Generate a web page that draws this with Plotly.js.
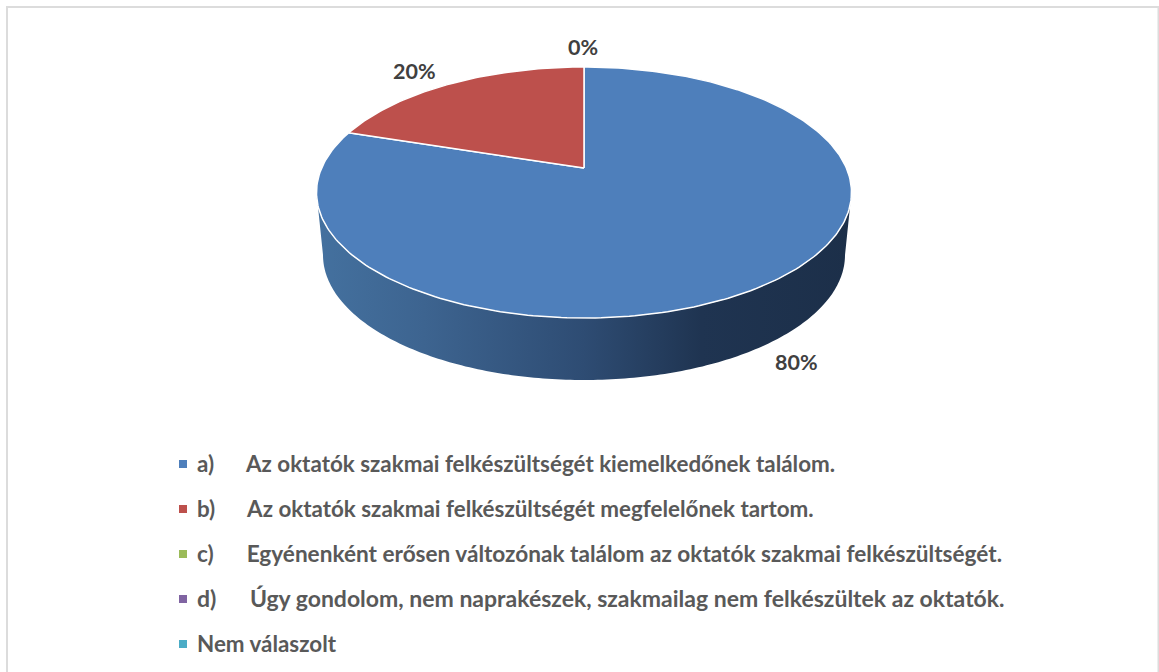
<!DOCTYPE html>
<html>
<head>
<meta charset="utf-8">
<script src="https://cdn.plot.ly/plotly-3.0.1.min.js"></script>
<style>html,body{margin:0;padding:0;background:#fff;overflow:hidden}#chart{width:1159px;height:672px}</style>
</head>
<body>
<div id="chart"></div>
<script>
// Data
const categories = [
  "a)\u00A0\u00A0\u00A0\u00A0\u00A0\u00A0Az oktatók szakmai felkészültségét kiemelkedőnek találom.",
  "b)\u00A0\u00A0\u00A0\u00A0\u00A0\u00A0Az oktatók szakmai felkészültségét megfelelőnek tartom.",
  "c)\u00A0\u00A0\u00A0\u00A0\u00A0\u00A0Egyénenként erősen változónak találom az oktatók szakmai felkészültségét.",
  "d)\u00A0\u00A0\u00A0\u00A0\u00A0\u00A0Úgy gondolom, nem naprakészek, szakmailag nem felkészültek az oktatók.",
  "Nem válaszolt"
];
const values = [80, 20, 0, 0, 0];
const colors = ["#4e7fbb", "#bd504c", "#9bbb59", "#8064a2", "#4bacc6"];
const valueLabels = [
  {text: "80%", x: 796, y: 362},
  {text: "20%", x: 414, y: 71},
  {text: "0%",  x: 583, y: 47}
];
const sideColors = [[0, "#44719f"], [0.2, "#3d6490"], [0.5, "#2e4c73"], [0.72, "#1f3451"], [1, "#1c2f49"]];

// Layout geometry (pixel-unit axes)
const W = 1159, H = 672;
const top_ = {cx: 584, cy: 192.5, rx: 267.5, ry: 125.5, tilt: 0.195};
const base = {cx: 584, cy: 255, rx: 261, ry: 125};
const rowY = [464, 509, 554, 599, 644];
const rowFont = [22.4, 22.4, 22.6, 23, 22.4];
const markerX = 183, textX = 195;
const font = "Lato, Carlito, Calibri, sans-serif";

function project(deg) {
  const t = deg * Math.PI / 180, u = Math.sin(t), v = Math.cos(t), a = top_.tilt;
  const d = 1 + a * v;
  return [top_.cx + top_.rx * u * Math.sqrt(1 - a * a) / d, top_.cy - top_.ry * (v + a) / d];
}
function slicePath(from, to) {
  const apex = [top_.cx, top_.cy - top_.ry * top_.tilt];
  const xs = [apex[0]], ys = [apex[1]];
  const n = Math.max(2, Math.ceil(to - from));
  for (let i = 0; i <= n; i++) {
    const p = project(from + (to - from) * i / n);
    xs.push(p[0]); ys.push(p[1]);
  }
  xs.push(apex[0]); ys.push(apex[1]);
  return {x: xs, y: ys};
}
function sidePath() {
  const xs = [], ys = [];
  for (let d = 180; d >= 0; d -= 1) {
    const t = d * Math.PI / 180;
    xs.push(base.cx + base.rx * Math.cos(t));
    ys.push(base.cy + base.ry * Math.sin(t));
  }
  for (let d = 0; d <= 180; d += 1) {
    const t = d * Math.PI / 180;
    xs.push(top_.cx + top_.rx * Math.cos(t));
    ys.push(top_.cy + top_.ry * Math.sin(t));
  }
  return {x: xs, y: ys};
}

const total = values.reduce((a, b) => a + b, 0);
const traces = [];
const sp = sidePath();
traces.push({
  type: "scatter", mode: "none", x: sp.x, y: sp.y, fill: "toself", hoverinfo: "skip",
  fillgradient: {type: "horizontal", colorscale: sideColors}, showlegend: false
});
let angle = 0;
values.forEach((v, i) => {
  const sweep = v / total * 360;
  if (v > 0) {
    const s = slicePath(angle, angle + sweep);
    traces.push({
      type: "scatter", mode: "lines", x: s.x, y: s.y, fill: "toself", fillcolor: colors[i],
      line: {color: "#ffffff", width: 1.5}, name: categories[i], hoverinfo: "skip", showlegend: false
    });
  }
  angle += sweep;
});
categories.forEach((c, i) => {
  traces.push({
    type: "scatter", mode: "markers", x: [markerX], y: [rowY[i]], name: c, hoverinfo: "skip", showlegend: false,
    marker: {symbol: "square", size: 8, color: colors[i]}
  });
});

const annotations = categories.map((c, i) => ({
  text: c, x: textX, y: rowY[i] - 1, xref: "x", yref: "y", xanchor: "left", yanchor: "middle",
  showarrow: false, align: "left", font: {family: font, size: rowFont[i], color: "#595959", weight: 700}
})).concat(valueLabels.map(l => ({
  text: l.text, x: l.x, y: l.y, xref: "x", yref: "y", xanchor: "center", yanchor: "middle",
  showarrow: false, font: {family: font, size: 21.5, color: "#404040", weight: 700}
})));

const layout = {
  width: W, height: H, margin: {l: 0, r: 0, t: 0, b: 0},
  paper_bgcolor: "#ffffff", plot_bgcolor: "#ffffff", showlegend: false,
  xaxis: {range: [0, W], visible: false, fixedrange: true},
  yaxis: {range: [H, 0], visible: false, fixedrange: true},
  shapes: [{type: "rect", xref: "x", yref: "y", x0: 7, y0: 7, x1: 1158.5, y1: 720,
            line: {color: "#dcdcdc", width: 2}, fillcolor: "rgba(0,0,0,0)", layer: "below"}],
  annotations: annotations
};
Plotly.newPlot("chart", traces, layout, {displayModeBar: false, staticPlot: true});
</script>
</body>
</html>
